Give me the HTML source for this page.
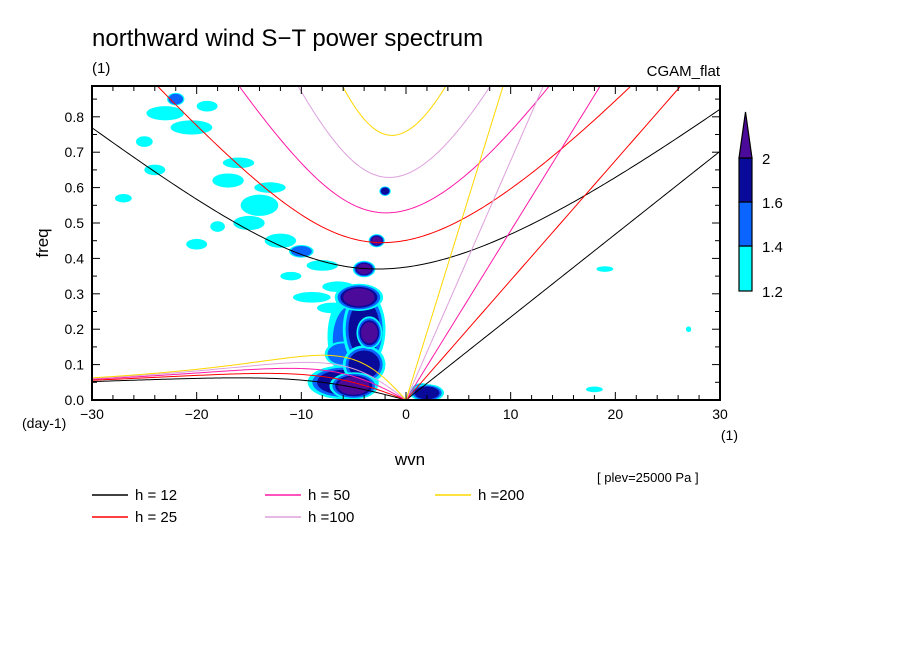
<!DOCTYPE html>
<html><head><meta charset="utf-8"><style>
body{margin:0;background:#fff}
svg{display:block;font-family:"Liberation Sans",sans-serif}
</style></head><body>
<svg id="c" width="904" height="654" viewBox="0 0 904 654">
<text x="92" y="46" font-size="24">northward wind S−T power spectrum</text>
<text x="92" y="73" font-size="15">(1)</text>
<text x="720" y="76" font-size="15" text-anchor="end">CGAM_flat</text>
<text x="48" y="243" font-size="17" text-anchor="middle" transform="rotate(-90 48 243)">freq</text>
<text x="410" y="465" font-size="17" text-anchor="middle">wvn</text>
<text x="22" y="428" font-size="14">(day-1)</text>
<text x="738" y="440" font-size="14" text-anchor="end">(1)</text>
<text x="597" y="482" font-size="13">[ plev=25000 Pa ]</text>
<defs><clipPath id="pc"><rect x="92" y="86" width="628" height="314"/></clipPath></defs>
<g id="blobs" clip-path="url(#pc)"></g>
<g id="curves" clip-path="url(#pc)"></g>
<g id="axes"></g>
<g id="cbar"></g>
<g id="legend"></g>
</svg>
<script>
const blobK=[-4.5,-4,-3.5,-5,-5,-6,-5,2,-4,-2.8,-2,-23,-20.5,-17,-14,-12,-10,-15,-22,-25,-18,-20,-11,-8,-13,-16,-9,-6.5,18,19,27,-27,-19,-24,-7,1.5,-4,-6];
const blobF=[0.29,0.2,0.19,0.18,0.17,0.05,0.04,0.02,0.37,0.45,0.59,0.81,0.77,0.62,0.55,0.45,0.42,0.5,0.85,0.73,0.49,0.44,0.35,0.38,0.6,0.67,0.29,0.32,0.03,0.37,0.2,0.57,0.83,0.65,0.26,0.03,0.1,0.13];
const blobRK=[1.5,1.5,0.8,2.5,2,2.5,1.5,1.2,0.7,0.5,0.4,1.8,2,1.5,1.8,1.5,1,1.5,0.7,0.8,0.7,1,1,1.5,1.5,1.5,1.8,1.5,0.8,0.8,0.25,0.8,1,1,1.5,0.8,1.5,1.5];
const blobRF=[0.025,0.08,0.03,0.13,0.1,0.035,0.025,0.018,0.015,0.012,0.01,0.02,0.02,0.02,0.03,0.02,0.015,0.02,0.015,0.015,0.015,0.015,0.012,0.015,0.015,0.015,0.015,0.015,0.008,0.008,0.008,0.012,0.015,0.015,0.015,0.015,0.04,0.03];
const blobLvl=[3,2,3,0,1,2,3,2,3,3,2,0,0,0,0,0,1,0,1,0,0,0,0,0,0,0,0,0,0,0,0,0,0,0,0,1,2,1];
const hVals=[12,25,50,100,200];
const hColors=["#000000","#ff0000","#ff1aa8","#dda0dd","#ffd700"];
const hLabels=["h = 12","h = 25","h = 50","h =100","h =200"];
const yTicks=[0,0.1,0.2,0.3,0.4,0.5,0.6,0.7,0.8];
const xTicks=[-30,-20,-10,0,10,20,30];
const cbLevels=[1.2,1.4,1.6,2];
const levelColors=["#00ffff","#0a64ff","#0a0a9a","#4b0a9a"];
const NS="http://www.w3.org/2000/svg";
const X=k=>92+(k+30)/60*628, Y=f=>400-f*354;
function el(t,a,p){const e=document.createElementNS(NS,t);for(const q in a)e.setAttribute(q,a[q]);p.appendChild(e);return e;}
const gb=document.getElementById('blobs');
const order=blobLvl.map((l,i)=>i).sort((a,b)=>blobLvl[a]-blobLvl[b]);
order.forEach(i=>{const L=blobLvl[i];
 for(let l=0;l<=L;l++){const s=1+(L-l)*0.18;
  const e=el('ellipse',{cx:X(blobK[i]),cy:Y(blobF[i]),rx:blobRK[i]/60*628*s,ry:blobRF[i]*354*s,fill:levelColors[l]},gb);
  
  }});
const g=9.81,beta=2.29e-11,a=6.371e6,conv=86400/(2*Math.PI);
const gc=document.getElementById('curves');
hVals.forEach((h,j)=>{const c=Math.sqrt(g*h);
 let ig=[],ro=[],kv=[];
 for(let k=-30;k<=30.001;k+=0.25){const kd=k/a;
  let w=Math.sqrt(c*c*kd*kd+3*beta*c)*1.3;
  for(let n=0;n<60;n++){const F=w*w*w-(c*c*kd*kd+3*beta*c)*w-beta*c*c*kd,D=3*w*w-(c*c*kd*kd+3*beta*c);w-=F/D;}
  ig.push(X(k)+','+Y(w*conv));
  if(k<=0)ro.push(X(k)+','+Y(-beta*kd/(kd*kd+3*beta/c)*conv));
  if(k>=0)kv.push(X(k)+','+Y(c*kd*conv));}
 [[ig,'ig-curve'],[ro,'rossby-curve'],[kv,'kelvin-curve']].forEach(([p,n])=>{
  const e=el('polyline',{points:p.join(' '),fill:'none',stroke:hColors[j],'stroke-width':1},gc);
  
  });});
const ga=document.getElementById('axes');
const fr=el('rect',{x:92,y:86,width:628,height:314,fill:'none',stroke:'#000','stroke-width':2},ga);


for(let f=0;f<=0.88;f+=0.05){const l=Math.round(f*100)%10==0?8:5;
 el('line',{x1:92,x2:92+l,y1:Y(f),y2:Y(f),stroke:'#000'},ga);el('line',{x1:720,x2:720-l,y1:Y(f),y2:Y(f),stroke:'#000'},ga);}
for(let k=-30;k<=30;k+=2){const l=k%10==0?8:5;
 el('line',{x1:X(k),x2:X(k),y1:400,y2:400-l,stroke:'#000'},ga);el('line',{x1:X(k),x2:X(k),y1:86,y2:86+l,stroke:'#000'},ga);}
yTicks.forEach(v=>{const t=el('text',{x:84,y:Y(v)+5,'font-size':14,'text-anchor':'end'},ga);t.textContent=v.toFixed(1);
 
 });
xTicks.forEach(v=>{const t=el('text',{x:X(v),y:419,'font-size':14,'text-anchor':'middle'},ga);t.textContent=v<0?'−'+(-v):String(v);
 
 });
const gcb=document.getElementById('cbar');
const cbY=[291,246,202,158];
for(let i=0;i<3;i++){const r=el('rect',{x:739,y:cbY[i+1],width:13,height:cbY[i]-cbY[i+1],fill:levelColors[i],stroke:'#000','stroke-width':1.2},gcb);
 
 }
const tri=el('polygon',{points:'739,158 752,158 745.5,112',fill:levelColors[3],stroke:'#000','stroke-width':1.2},gcb);


cbLevels.forEach((v,i)=>{const t=el('text',{x:762,y:cbY[i]+6,'font-size':15},gcb);t.textContent=String(v);
 
 });
const gl=document.getElementById('legend');
const lx=[92,92,265,265,435],ly=[495,517,495,517,495];
hVals.forEach((h,j)=>{
 const ln=el('line',{x1:lx[j],x2:lx[j]+36,y1:ly[j],y2:ly[j],stroke:hColors[j],'stroke-width':1.5},gl);
 
 
 const t=el('text',{x:lx[j]+43,y:ly[j]+5,'font-size':15},gl);t.textContent=hLabels[j];
 
 });
</script>
</body></html>
